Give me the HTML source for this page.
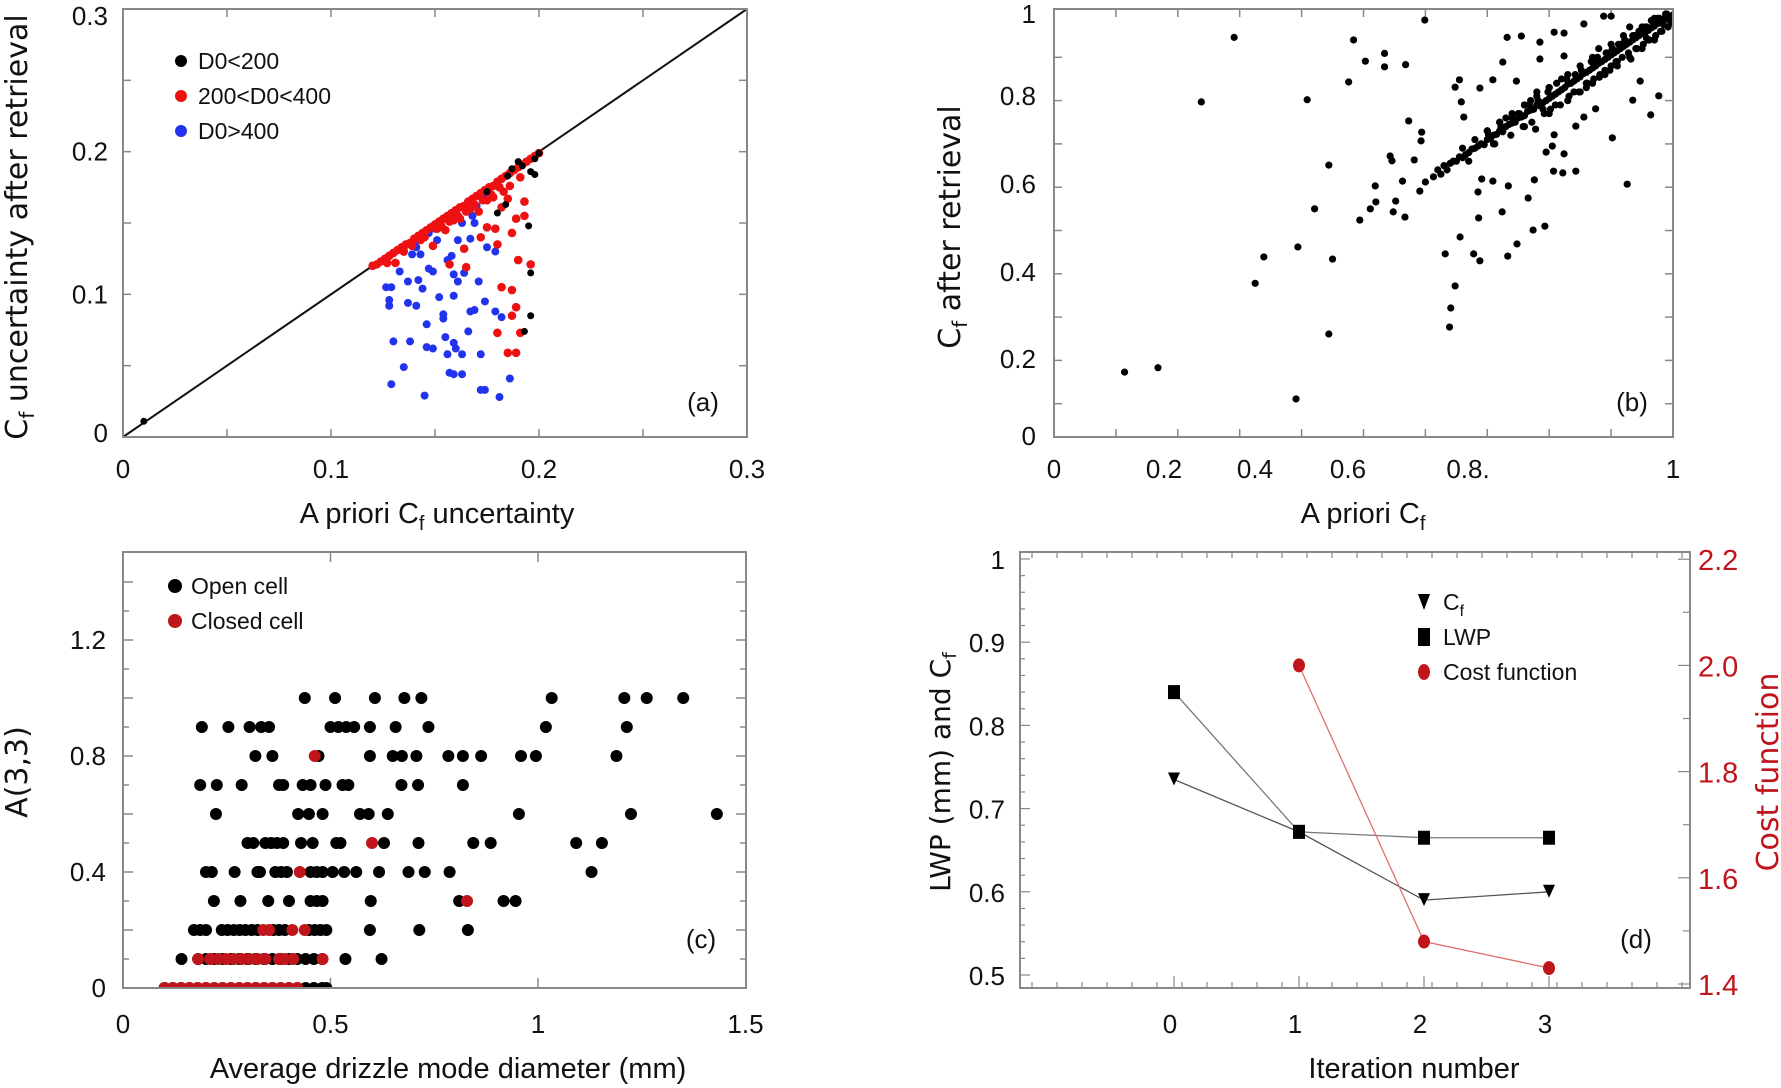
<!DOCTYPE html>
<html><head><meta charset="utf-8">
<style>
html,body{margin:0;padding:0;background:#fff;}
svg{display:block;}
text{font-family:"Liberation Sans Narrow","Liberation Sans",sans-serif;}
.tl{font-size:26px;fill:#111;}
.tt{font-size:29px;fill:#111;}
.yt{font-family:"DejaVu Sans","Liberation Sans",sans-serif;font-size:30px;fill:#111;}
.lg{font-size:23px;fill:#111;}
.red{fill:#c0161b;}
</style></head>
<body>
<svg id="fig" width="1781" height="1088" viewBox="0 0 1781 1088" xmlns="http://www.w3.org/2000/svg">
<defs>
<clipPath id="clipA"><rect x="123" y="9" width="624" height="428"/></clipPath>
<clipPath id="clipB"><rect x="1054" y="9" width="619" height="428"/></clipPath>
<clipPath id="clipC"><rect x="123" y="552" width="623" height="436"/></clipPath>
</defs>
</svg>
<script>
// ---- Panel (a) data ----
const aBlackX=[0.187,0.19,0.198,0.198,0.196,0.184,0.18,0.195,0.196,0.196,0.193,0.01,0.2,0.185,0.175,0.192];
const aBlackY=[0.188,0.193,0.195,0.184,0.186,0.163,0.157,0.148,0.115,0.085,0.074,0.011,0.199,0.183,0.172,0.19];
const aRedX=[0.131,0.149,0.157,0.165,0.164,0.172,0.179,0.187,0.189,0.193,0.193,0.185,0.182,0.182,0.187,0.19,0.196,0.189,0.187,0.18,0.191,0.185,0.189,0.18,0.175,
0.12,0.122,0.124,0.126,0.128,0.13,0.132,0.134,0.136,0.138,0.14,0.142,0.144,0.146,0.148,0.15,0.152,0.154,0.156,0.158,0.16,0.162,0.164,0.166,0.168,0.17,0.172,0.174,0.176,0.178,0.18,0.182,0.184,0.186,0.188,0.19,0.192,0.194,0.196,0.198,0.2,
0.127,0.135,0.143,0.151,0.159,0.167,0.175,0.183,0.191,0.139,0.155,0.171,0.186,0.162,0.178,0.145,0.153,0.161,0.169,0.177,0.181,0.173,0.165,0.157];
const aRedY=[0.122,0.134,0.121,0.119,0.132,0.14,0.146,0.143,0.153,0.155,0.165,0.167,0.161,0.105,0.103,0.124,0.121,0.091,0.085,0.073,0.073,0.059,0.059,0.135,0.147,
0.12,0.121,0.123,0.125,0.127,0.129,0.131,0.133,0.135,0.136,0.139,0.141,0.143,0.145,0.147,0.149,0.151,0.153,0.155,0.157,0.159,0.161,0.162,0.165,0.167,0.169,0.171,0.173,0.175,0.176,0.179,0.181,0.183,0.185,0.187,0.189,0.191,0.193,0.195,0.197,0.199,
0.122,0.13,0.138,0.146,0.152,0.16,0.166,0.172,0.182,0.134,0.145,0.158,0.176,0.153,0.168,0.14,0.148,0.155,0.163,0.17,0.175,0.166,0.158,0.151];
const aBlueX=[0.1265,0.129,0.128,0.128,0.13,0.135,0.129,0.133,0.137,0.138,0.141,0.137,0.142,0.144,0.146,0.146,0.149,0.145,0.147,0.149,0.152,0.154,0.154,0.155,0.156,0.157,0.159,0.159,0.159,0.16,0.158,0.161,0.163,0.163,0.166,0.167,0.169,0.171,0.172,0.172,0.174,0.174,0.175,0.179,0.179,0.181,0.182,0.186,0.139,0.143,0.151,0.153,0.163,0.167,0.169,0.175,0.168,0.161,0.156,0.147,0.141,0.159,0.164,0.135,0.14,0.145,0.15,0.155,0.16,0.165,0.17];
const aBlueY=[0.105,0.105,0.096,0.092,0.067,0.049,0.037,0.116,0.094,0.067,0.092,0.109,0.11,0.104,0.079,0.063,0.062,0.029,0.118,0.116,0.098,0.086,0.083,0.07,0.058,0.045,0.044,0.099,0.066,0.062,0.127,0.109,0.058,0.044,0.074,0.088,0.089,0.109,0.058,0.033,0.033,0.095,0.133,0.13,0.088,0.028,0.084,0.041,0.128,0.128,0.138,0.147,0.15,0.139,0.15,0.169,0.155,0.138,0.124,0.143,0.133,0.114,0.115,0.133,0.137,0.143,0.146,0.153,0.156,0.159,0.162];
const aTicks=[0,0.1,0.2,0.3];
const aTickLabels=["0","0.1","0.2","0.3"];
// ---- Panel (b) data ----
const bX=[0.114,0.168,0.391,0.238,0.291,0.409,0.325,0.339,0.394,0.45,0.444,0.444,0.421,0.494,0.511,0.52,0.519,0.548,0.552,0.567,0.563,0.543,0.546,0.582,0.573,0.594,0.593,0.591,0.6,0.613,0.476,0.484,0.503,0.534,0.534,0.568,0.599,0.632,0.639,0.641,0.648,0.656,0.678,0.688,0.686,0.685,0.691,0.709,0.724,0.734,0.733,0.748,0.766,0.774,0.776,0.793,0.807,0.822,0.843,0.795,0.805,0.824,0.778,0.808,0.902,0.926,0.964,0.935,0.977,0.947,0.655,0.648,0.658,0.662,0.688,0.709,0.732,0.755,0.725,0.785,0.808,0.824,0.856,0.888,0.9,0.957,0.932,0.856,0.875,0.843,0.881,0.747,0.785,0.824,
0.62,0.625,0.63,0.635,0.64,0.645,0.65,0.655,0.66,0.665,0.67,0.675,0.68,0.685,0.69,0.695,0.7,0.705,0.71,0.715,0.72,0.725,0.73,0.735,0.74,0.745,0.75,0.755,0.76,0.765,0.77,0.775,0.78,0.785,0.79,0.795,0.8,0.805,0.81,0.815,0.82,0.825,0.83,0.835,0.84,0.845,0.85,0.855,0.86,0.865,0.87,0.875,0.88,0.885,0.89,0.895,0.9,0.905,0.91,0.915,0.92,0.925,0.93,0.935,0.94,0.945,0.95,0.955,0.96,0.965,0.97,0.975,0.98,0.985,0.99,0.995,1.0,
0.66,0.67,0.68,0.7,0.71,0.72,0.74,0.75,0.76,0.77,0.79,0.8,0.81,0.83,0.84,0.85,0.86,0.87,0.89,0.9,0.91,0.92,0.94,0.95,0.96,0.97,0.98,0.99,0.73,0.78,0.82,0.88,0.93,0.69,0.76,0.8,0.86,0.9,0.96,0.985,0.995,0.975,0.965,0.955,0.945,0.935,0.915,0.895,0.875,
0.702,0.712,0.722,0.738,0.752,0.758,0.768,0.772,0.782,0.792,0.798,0.802,0.812,0.818,0.828,0.832,0.842,0.848,0.852,0.862,0.868,0.872,0.878,0.882,0.892,0.898,0.902,0.908,0.912,0.918,0.922,0.928,0.938,0.942,0.948,0.952,0.958,0.962,0.968,0.972,0.978,0.982,0.988,0.992,0.996,0.998,0.83,0.85,0.87,0.89,0.91,0.93,0.95,0.97,0.8,0.78,0.76,0.74,0.72,0.7];
const bY=[0.173,0.183,0.111,0.797,0.946,0.802,0.378,0.439,0.462,0.434,0.261,0.651,0.55,0.524,0.55,0.566,0.603,0.543,0.568,0.531,0.614,0.672,0.661,0.663,0.753,0.727,0.707,0.591,0.612,0.624,0.843,0.94,0.891,0.909,0.878,0.883,0.986,0.446,0.277,0.321,0.372,0.485,0.446,0.43,0.529,0.589,0.619,0.614,0.543,0.603,0.441,0.469,0.575,0.501,0.617,0.51,0.637,0.633,0.637,0.681,0.695,0.677,0.734,0.721,0.714,0.607,0.767,0.801,0.811,0.845,0.848,0.831,0.797,0.762,0.829,0.848,0.946,0.949,0.889,0.935,0.958,0.956,0.977,0.995,0.995,0.945,0.896,0.762,0.781,0.741,0.854,0.845,0.896,0.903,
0.64,0.63,0.65,0.64,0.655,0.66,0.66,0.67,0.668,0.675,0.68,0.688,0.69,0.695,0.7,0.698,0.71,0.712,0.72,0.722,0.73,0.728,0.74,0.745,0.748,0.75,0.76,0.762,0.765,0.775,0.778,0.78,0.79,0.788,0.795,0.8,0.805,0.81,0.815,0.82,0.825,0.83,0.838,0.84,0.845,0.85,0.855,0.862,0.865,0.87,0.875,0.88,0.886,0.89,0.895,0.9,0.905,0.91,0.915,0.92,0.925,0.93,0.935,0.94,0.945,0.95,0.955,0.958,0.962,0.968,0.972,0.978,0.982,0.988,0.99,0.995,0.998,
0.69,0.66,0.71,0.73,0.7,0.75,0.76,0.77,0.74,0.8,0.78,0.83,0.79,0.86,0.82,0.88,0.83,0.9,0.87,0.93,0.89,0.95,0.92,0.97,0.94,0.99,0.96,1.0,0.76,0.82,0.85,0.92,0.97,0.7,0.79,0.77,0.84,0.88,0.94,0.975,0.985,0.99,0.985,0.97,0.96,0.95,0.93,0.91,0.89,
0.72,0.7,0.74,0.72,0.77,0.74,0.79,0.75,0.8,0.77,0.82,0.78,0.84,0.79,0.85,0.81,0.86,0.82,0.87,0.84,0.89,0.85,0.9,0.86,0.91,0.87,0.92,0.89,0.93,0.9,0.94,0.91,0.95,0.92,0.96,0.93,0.97,0.94,0.98,0.95,0.99,0.96,1.0,0.97,0.99,0.98,0.8,0.82,0.84,0.86,0.88,0.9,0.92,0.94,0.83,0.81,0.79,0.77,0.75,0.73];
// ---- Panel (c) data ----
const cOpenX=[0.438,0.511,0.607,0.678,0.719,1.033,1.208,1.262,1.35,
0.19,0.254,0.305,0.333,0.352,0.5,0.519,0.538,0.557,0.595,0.657,0.736,1.019,1.214,
0.319,0.36,0.471,0.595,0.65,0.672,0.707,0.784,0.819,0.863,0.959,0.995,1.189,
0.186,0.226,0.286,0.376,0.386,0.433,0.452,0.488,0.529,0.543,0.671,0.711,0.819,
0.224,0.422,0.448,0.481,0.571,0.592,0.638,0.954,1.224,1.431,
0.3,0.314,0.343,0.357,0.371,0.386,0.429,0.457,0.514,0.524,0.629,0.712,0.844,0.886,1.092,1.154,
0.2,0.214,0.269,0.324,0.33,0.367,0.381,0.395,0.452,0.467,0.481,0.505,0.533,0.562,0.617,0.688,0.727,0.787,1.129,
0.219,0.283,0.35,0.4,0.452,0.467,0.481,0.597,0.81,0.917,0.946,
0.171,0.186,0.2,0.238,0.252,0.267,0.281,0.295,0.31,0.324,0.362,0.376,0.39,0.448,0.462,0.476,0.49,0.595,0.714,0.831,
0.141,0.181,0.2,0.22,0.24,0.26,0.28,0.3,0.32,0.34,0.36,0.38,0.4,0.42,0.44,0.46,0.48,0.536,0.623,
0.1,0.12,0.14,0.16,0.18,0.2,0.22,0.24,0.26,0.28,0.3,0.32,0.34,0.36,0.38,0.4,0.42,0.44,0.46,0.48,0.49];
const cOpenY=[1,1,1,1,1,1,1,1,1,
0.9,0.9,0.9,0.9,0.9,0.9,0.9,0.9,0.9,0.9,0.9,0.9,0.9,0.9,
0.8,0.8,0.8,0.8,0.8,0.8,0.8,0.8,0.8,0.8,0.8,0.8,0.8,
0.7,0.7,0.7,0.7,0.7,0.7,0.7,0.7,0.7,0.7,0.7,0.7,0.7,
0.6,0.6,0.6,0.6,0.6,0.6,0.6,0.6,0.6,0.6,
0.5,0.5,0.5,0.5,0.5,0.5,0.5,0.5,0.5,0.5,0.5,0.5,0.5,0.5,0.5,0.5,
0.4,0.4,0.4,0.4,0.4,0.4,0.4,0.4,0.4,0.4,0.4,0.4,0.4,0.4,0.4,0.4,0.4,0.4,0.4,
0.3,0.3,0.3,0.3,0.3,0.3,0.3,0.3,0.3,0.3,0.3,
0.2,0.2,0.2,0.2,0.2,0.2,0.2,0.2,0.2,0.2,0.2,0.2,0.2,0.2,0.2,0.2,0.2,0.2,0.2,0.2,
0.1,0.1,0.1,0.1,0.1,0.1,0.1,0.1,0.1,0.1,0.1,0.1,0.1,0.1,0.1,0.1,0.1,0.1,0.1,
0,0,0,0,0,0,0,0,0,0,0,0,0,0,0,0,0,0,0,0,0];
const cClosedX=[0.462,0.6,0.426,0.829,0.338,0.352,0.408,0.438,0.181,0.21,0.229,0.248,0.267,0.286,0.305,0.324,0.343,0.376,0.39,0.41,0.481,
0.1,0.12,0.14,0.16,0.18,0.2,0.22,0.24,0.26,0.28,0.3,0.32,0.34,0.36,0.38,0.4,0.42];
const cClosedY=[0.8,0.5,0.4,0.3,0.2,0.2,0.2,0.2,0.1,0.1,0.1,0.1,0.1,0.1,0.1,0.1,0.1,0.1,0.1,0.1,0.1,
0,0,0,0,0,0,0,0,0,0,0,0,0,0,0,0,0];
const cYTicks=[0,0.4,0.8,1.2];
const cYLabels=["0","0.4","0.8","1.2"];
const cXTicks=[0,0.5,1,1.5];
const cXLabels=["0","0.5","1","1.5"];
// ---- Panel (d) data ----
const dIter=[0,1,2,3];
const dCf=[0.735,0.672,0.59,0.6];
const dLWP=[0.84,0.672,0.665,0.665];
const dCostIter=[1,2,3];
const dCost=[2.0,1.48,1.43];
const dLeftTicks=[0.5,0.6,0.7,0.8,0.9,1];
const dLeftLabels=["0.5","0.6","0.7","0.8","0.9","1"];
const dRightTicks=[1.4,1.6,1.8,2.0,2.2];
const dRightLabels=["1.4","1.6","1.8","2.0","2.2"];

const NS="http://www.w3.org/2000/svg";
const svg=document.getElementById('fig');
function mk(tag,attrs,parent){const e=document.createElementNS(NS,tag);for(const k in attrs)e.setAttribute(k,attrs[k]);(parent||svg).appendChild(e);return e;}
function txt(s,x,y,cls,anchor,parent){const t=mk('text',{x:x,y:y,class:cls,'text-anchor':anchor||'middle'},parent);t.textContent=s;return t;}

const axA={x:v=>123+v/0.3*624, y:v=>437-v/0.3*428};
const axB={x:v=>1054+v*619, y:v=>447-v*433};
const axC={x:v=>123+v*415, y:v=>988-v*290};
const axD={x:v=>1174+v*125, yL:v=>975-(v-0.5)*832, yR:v=>984-(v-1.4)*531};

function frame(x,y,w,h,name){const r=mk('rect',{x:x,y:y,width:w,height:h,fill:'none',stroke:'#888','stroke-width':2});

}

// ===== Panel A =====
const gA=mk('g',{});


frame(123,9,624,428,'panel-a-frame');
for(let v=0.05;v<0.3;v+=0.05){
 const x=axA.x(v),y=axA.y(v);
 mk('line',{x1:x,y1:437,x2:x,y2:429,stroke:'#888','stroke-width':1.5},gA);
 mk('line',{x1:x,y1:9,x2:x,y2:17,stroke:'#888','stroke-width':1.5},gA);
 mk('line',{x1:123,y1:y,x2:131,y2:y,stroke:'#888','stroke-width':1.5},gA);
 mk('line',{x1:747,y1:y,x2:739,y2:y,stroke:'#888','stroke-width':1.5},gA);
}
const diag=mk('line',{x1:axA.x(0),y1:axA.y(0),x2:axA.x(0.3),y2:axA.y(0.3),stroke:'#111','stroke-width':2},gA);


const gAp=mk('g',{'clip-path':'url(#clipA)'},gA);
aBlueX.forEach((v,i)=>{const c=mk('circle',{cx:axA.x(v),cy:axA.y(aBlueY[i]),r:4,fill:'#2233ee'},gAp);

});
aRedX.forEach((v,i)=>{const c=mk('circle',{cx:axA.x(v),cy:axA.y(aRedY[i]),r:4.3,fill:'#ee1111'},gAp);

});
aBlackX.forEach((v,i)=>{const c=mk('circle',{cx:axA.x(v),cy:axA.y(aBlackY[i]),r:3.5,fill:'#000'},gAp);

});
aTicks.forEach((v,i)=>{
 const t1=txt(aTickLabels[i],axA.x(v),478,'tl','middle',gA);
 
 
 const t2=txt(aTickLabels[i],108,axA.y(v)+(v==0.3?16:(v==0?5:9)),'tl','end',gA);
 
 
});
{const t=txt('',437,523,'tt','middle',gA);t.innerHTML='A priori C<tspan font-size="20" dy="7">f</tspan><tspan dy="-7"> uncertainty</tspan>';

}
{const t=txt('',0,0,'yt','middle',gA);t.setAttribute('transform','translate(27,227) rotate(-90)');t.innerHTML='C<tspan font-size="20" dy="7">f</tspan><tspan dy="-7"> uncertainty after retrieval</tspan>';

}
{const t=txt('(a)',703,411,'tl','middle',gA);

}
[['D0<200','#000',61],['200<D0<400','#ee1111',96],['D0>400','#2233ee',131]].forEach(l=>{
 const g=mk('g',{},gA);
 
 
 mk('circle',{cx:181,cy:l[2],r:6,fill:l[1]},g);
 txt(l[0],198,l[2]+8,'lg','start',g);
});

// ===== Panel B =====
const gB=mk('g',{});


frame(1054,9,619,428,'panel-b-frame');
for(let k=1;k<10;k++){
 const v=k/10,x=axB.x(v),y=axB.y(v);
 mk('line',{x1:x,y1:437,x2:x,y2:429,stroke:'#888','stroke-width':1.5},gB);
 mk('line',{x1:x,y1:9,x2:x,y2:17,stroke:'#888','stroke-width':1.5},gB);
 mk('line',{x1:1054,y1:y,x2:1062,y2:y,stroke:'#888','stroke-width':1.5},gB);
 mk('line',{x1:1673,y1:y,x2:1665,y2:y,stroke:'#888','stroke-width':1.5},gB);
}
const gBp=mk('g',{'clip-path':'url(#clipB)'},gB);
bX.forEach((v,i)=>{const c=mk('circle',{cx:axB.x(v),cy:axB.y(bY[i]),r:3.6,fill:'#000'},gBp);

});
[['0',1054],['0.2',1164],['0.4',1255],['0.6',1348],['0.8.',1468],['1',1673]].forEach(l=>{
 const t=txt(l[0],l[1],478,'tl','middle',gB);
 
 });
[['0',445],['0.2',368],['0.4',281],['0.6',193],['0.8',105],['1',23]].forEach(l=>{
 const t=txt(l[0],1036,l[1],'tl','end',gB);
 
 });
{const t=txt('',1363,523,'tt','middle',gB);t.innerHTML='A priori C<tspan font-size="20" dy="7">f</tspan>';

}
{const t=txt('',0,0,'yt','middle',gB);t.setAttribute('transform','translate(960,227) rotate(-90)');t.innerHTML='C<tspan font-size="20" dy="7">f</tspan><tspan dy="-7">  after retrieval</tspan>';

}
{const t=txt('(b)',1632,411,'tl','middle',gB);

}

// ===== Panel C =====
const gC=mk('g',{});


frame(123,552,623,436,'panel-c-frame');
for(let k=1;k<15;k++){const y=axC.y(k/10),L=(k%2==0)?10:6;
 mk('line',{x1:123,y1:y,x2:123+L,y2:y,stroke:'#888','stroke-width':1.5},gC);
 mk('line',{x1:746,y1:y,x2:746-L,y2:y,stroke:'#888','stroke-width':1.5},gC);}
[0.5,1].forEach(v=>{const x=axC.x(v);
 mk('line',{x1:x,y1:988,x2:x,y2:978,stroke:'#888','stroke-width':1.5},gC);
 mk('line',{x1:x,y1:552,x2:x,y2:562,stroke:'#888','stroke-width':1.5},gC);});
const gCp=mk('g',{'clip-path':'url(#clipC)'},gC);
cOpenX.forEach((v,i)=>{const c=mk('circle',{cx:axC.x(v),cy:axC.y(cOpenY[i]),r:6,fill:'#000'},gCp);

});
cClosedX.forEach((v,i)=>{const c=mk('circle',{cx:axC.x(v),cy:axC.y(cClosedY[i]),r:6,fill:'#c0161b'},gCp);

});
cXTicks.forEach((v,i)=>{const t=txt(cXLabels[i],axC.x(v),1033,'tl','middle',gC);
 
 });
cYTicks.forEach((v,i)=>{const t=txt(cYLabels[i],106,axC.y(v)+9,'tl','end',gC);
 
 });
{const t=txt('Average drizzle mode diameter (mm)',448,1078,'tt','middle',gC);

}
{const t=txt('A(3,3)',0,0,'yt','middle',gC);t.setAttribute('transform','translate(27,772) rotate(-90)');

}
{const t=txt('(c)',701,948,'tl','middle',gC);

}
[['Open cell','#000',586],['Closed cell','#c0161b',621]].forEach(l=>{
 const g=mk('g',{},gC);
 
 
 mk('circle',{cx:175,cy:l[2],r:7,fill:l[1]},g);
 txt(l[0],191,l[2]+8,'lg','start',g);
});

// ===== Panel D =====
const gD=mk('g',{});


frame(1020,552,670,436,'panel-d-frame');
for(let k=0;k<=26;k++){const v=0.48+k*0.02;const y=axD.yL(v);if(y<553||y>987)continue;
 const L=(Math.round(v*100)%10==0)?10:5;
 mk('line',{x1:1020,y1:y,x2:1020+L,y2:y,stroke:'#888','stroke-width':1.2},gD);}
for(let k=0;k<=8;k++){const v=1.4+k*0.1;const y=axD.yR(v);const L=(k%2==0)?12:7;
 mk('line',{x1:1690,y1:y,x2:1690-L,y2:y,stroke:'#888','stroke-width':1.2},gD);}
for(let x=1032;x<1690;x+=25){
 mk('line',{x1:x,y1:988,x2:x,y2:982,stroke:'#888','stroke-width':1.2},gD);
 mk('line',{x1:x,y1:552,x2:x,y2:558,stroke:'#888','stroke-width':1.2},gD);}
dIter.forEach(v=>{const x=axD.x(v);mk('line',{x1:x,y1:988,x2:x,y2:976,stroke:'#888','stroke-width':1.2},gD);});
function poly(xs,ys,fx,fy,color,name){const p=mk('polyline',{points:xs.map((v,i)=>fx(v)+','+fy(ys[i])).join(' '),fill:'none',stroke:color,'stroke-width':1.3},gD);
 
 }
poly(dIter,dLWP,axD.x,axD.yL,'#777','lwp-line');
poly(dIter,dCf,axD.x,axD.yL,'#555','cf-line');
poly(dCostIter,dCost,axD.x,axD.yR,'#e07070','cost-line');
dIter.forEach((v,i)=>{const x=axD.x(v),y=axD.yL(dLWP[i]);
 const r=mk('rect',{x:x-6,y:y-7,width:12,height:14,fill:'#000'},gD);
 
 
 const y2=axD.yL(dCf[i]);
 const t=mk('polygon',{points:(x-6)+','+(y2-7)+' '+(x+6)+','+(y2-7)+' '+x+','+(y2+6),fill:'#000'},gD);
 
 });
dCostIter.forEach((v,i)=>{const e=mk('ellipse',{cx:axD.x(v),cy:axD.yR(dCost[i]),rx:6,ry:7,fill:'#c0161b'},gD);
 
 });
dIter.forEach(v=>{const t=txt(String(v),axD.x(v)-4,1033,'tl','middle',gD);
 
 });
dLeftTicks.forEach((v,i)=>{const t=txt(dLeftLabels[i],1005,axD.yL(v)+10,'tl','end',gD);
 
 });
dRightTicks.forEach((v,i)=>{const t=txt(dRightLabels[i],1698,axD.yR(v)+11,'tl red','start',gD);
 t.setAttribute('style','font-size:29px;fill:#c0161b');
 
 });
{const t=txt('Iteration number',1414,1078,'tt','middle',gD);

}
{const t=txt('',0,0,'yt','middle',gD);t.setAttribute('transform','translate(950,772) rotate(-90)');t.setAttribute('style','font-size:28px');t.innerHTML='LWP (mm) and C<tspan font-size="19" dy="6">f</tspan>';

}
{const t=txt('Cost function',0,0,'yt','middle',gD);t.setAttribute('transform','translate(1778,772) rotate(-90)');t.setAttribute('style','fill:#c0161b');

}
{const t=txt('(d)',1636,948,'tl','middle',gD);

}
[['tri',602,'C'],['sq',637,'LWP'],['circ',672,'Cost function']].forEach(l=>{
 const g=mk('g',{},gD);
 
 
 const x=1424,y=l[1];
 if(l[0]=='tri')mk('polygon',{points:(x-6)+','+(y-8)+' '+(x+6)+','+(y-8)+' '+x+','+(y+8),fill:'#000'},g);
 if(l[0]=='sq')mk('rect',{x:x-6,y:y-9,width:12,height:18,fill:'#000'},g);
 if(l[0]=='circ')mk('ellipse',{cx:x,cy:y,rx:6,ry:8,fill:'#c0161b'},g);
 const t=txt(l[2],1443,y+8,'lg','start',g);
 if(l[0]=='tri')t.innerHTML='C<tspan font-size="16" dy="6">f</tspan>';
});
</script>
</body></html>
